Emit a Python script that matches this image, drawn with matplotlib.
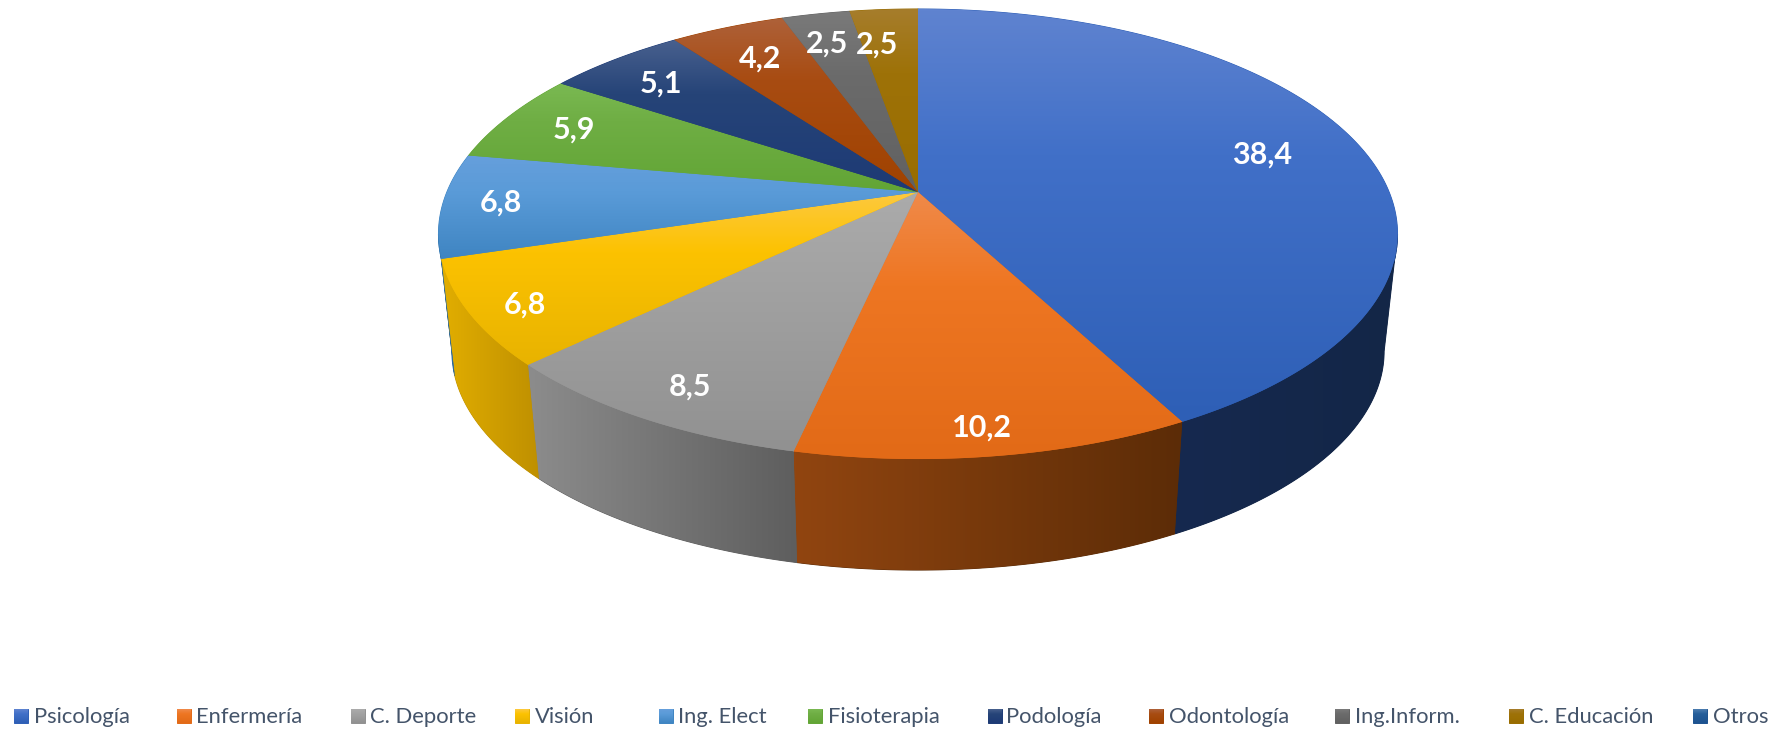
import numpy as np
import matplotlib
matplotlib.use("Agg")
import matplotlib.pyplot as plt
from matplotlib.colors import to_rgb
from matplotlib.patches import Polygon

categories = ["Psicología", "Enfermería", "C. Deporte", "Visión", "Ing. Elect", "Fisioterapia",
              "Podología", "Odontología", "Ing.Inform.", "C. Educación", "Otros"]
values = [38.4, 10.2, 8.5, 6.8, 6.8, 5.9, 5.1, 4.2, 2.5, 2.5, 0]

# colours of the top face, light end, middle, dark end
top_light = ["#5f83d0", "#f08a4a", "#ababab", "#fdc93f", "#669fdc", "#7ab952", "#48608e", "#ae6139", "#7a7a7a", "#a67d2c", "#4c7db0"]
top_mid = ["#4170c8", "#ee7622", "#a2a2a2", "#fcc200", "#5a9bd8", "#6fae44", "#264478", "#a84c12", "#6b6b6b", "#9e7208", "#255e9a"]
top_dark = ["#2e5fb6", "#e26a17", "#919191", "#e8b300", "#3f85c2", "#62a535", "#1d3a75", "#a04200", "#616161", "#996d00", "#1d5390"]
# colours of the side wall, left end then right end
wall_left = ["#16294f", "#914510", "#8c8c8c", "#e2ae00", "#2e6a9f", "#4c7a2a", "#14284f", "#6e2e00", "#444444", "#6b4d00", "#14395f"]
wall_right = ["#132647", "#5c2c07", "#5e5e5e", "#bf9000", "#2e6a9f", "#4c7a2a", "#14284f", "#6e2e00", "#444444", "#6b4d00", "#14395f"]

# pixel layout of the tilted pie
apex_x, apex_y = 918, 192
low_y = 310.5
low_scale = 0.972
a, b, k = 471.1, 217.2, 0.1867

label_xy = [(1262, 155), (982, 428), (690, 387), (525, 305), (501, 203), (574, 130),
            (661, 84), (760, 59), (827, 44), (877, 45)]
legend_sq = [14, 177, 351, 515, 659, 808, 988, 1149, 1335, 1509, 1693]
legend_txt = [34, 196, 370, 535, 678, 828, 1006, 1169, 1355, 1529, 1713]


def disc(angle, y0=apex_y, s=1.0):
    # angle in degrees, clockwise from the top, goes to screen pixels
    t = np.radians(angle)
    d = 1 + k * np.cos(t)
    return apex_x + s * a * np.sin(t) / d, y0 - s * b * np.cos(t) / d


def shade(ax, poly, stops, vertical=True, n=128):
    x0, y0 = poly.min(axis=0)
    x1, y1 = poly.max(axis=0)
    pos = np.linspace(0, 1, n)
    where = [0, 0.35, 1] if len(stops) == 3 else [0, 1]
    rgb = np.array([to_rgb(c) for c in stops])
    img = np.column_stack([np.interp(pos, where, rgb[:, j]) for j in range(3)])
    img = img[:, None, :] if vertical else img[None, :, :]
    # solid polygon below the gradient so no white seam shows between slices
    ax.add_patch(Polygon(poly, closed=True, fc=stops[-1], ec=stops[-1], lw=0.7, zorder=1))
    im = ax.imshow(img, extent=(x0, x1, y1, y0), aspect="auto", interpolation="bilinear", zorder=2)
    patch = Polygon(poly, closed=True, transform=ax.transData, fc="none", ec="none")
    ax.add_patch(patch)
    im.set_clip_path(patch)


fig = plt.figure(figsize=(17.87, 7.29), dpi=100)
ax = fig.add_axes([0, 0, 1, 1])

total = sum(values)
edges = np.concatenate([[0], np.cumsum(values)]) / total * 360
left_limit = 180 + np.degrees(np.arccos(k))
right_limit = 180 - np.degrees(np.arccos(k))

# walls first, only the part of the rim that faces the viewer
for i in range(len(values)):
    start = max(edges[i], right_limit)
    stop = min(edges[i + 1], left_limit)
    if values[i] == 0 or stop <= start:
        continue
    ang = np.linspace(start, stop, 120)
    ux, uy = disc(ang)
    lx, ly = disc(ang[::-1], low_y, low_scale)
    poly = np.column_stack([np.r_[ux, lx], np.r_[uy, ly]])
    shade(ax, poly, [wall_left[i], wall_right[i]], vertical=False)

for i in range(len(values)):
    if values[i] == 0:
        continue
    ang = np.linspace(edges[i], edges[i + 1], 200)
    x, y = disc(ang)
    poly = np.column_stack([np.r_[apex_x, x], np.r_[apex_y, y]])
    shade(ax, poly, [top_light[i], top_mid[i], top_dark[i]])

for v, (x, y) in zip(values, label_xy):
    ax.text(x, y, f"{v:.1f}".replace(".", ","), color="white", fontsize=22, fontweight="bold",
            family="Lato", ha="center", va="center", zorder=5)

for i, name in enumerate(categories):
    sq = np.array([[legend_sq[i], 709], [legend_sq[i] + 14, 709], [legend_sq[i] + 14, 723], [legend_sq[i], 723]])
    shade(ax, sq, [top_light[i], top_mid[i], top_dark[i]])
    ax.text(legend_txt[i], 717, name, color="#44546a", fontsize=15.8, family="Lato", ha="left", va="center", zorder=5)

ax.set_xlim(0, 1787)
ax.set_ylim(729, 0)
ax.axis("off")
fig.savefig("out.png", dpi=100, facecolor="white")
